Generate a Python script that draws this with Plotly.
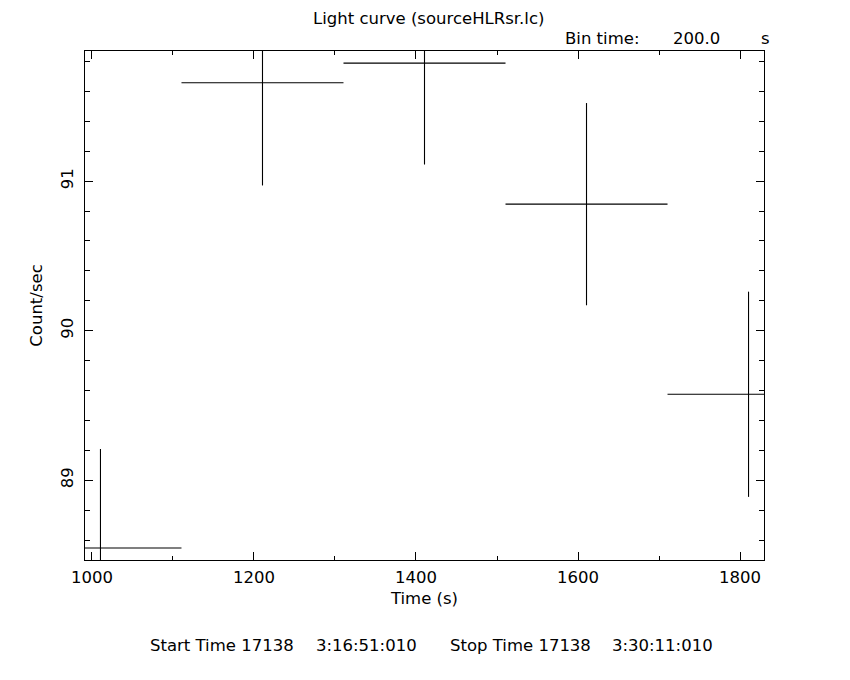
import plotly.graph_objects as go

# Data
time_s = [1010.5, 1210.5, 1410.5, 1610.5, 1810.5]
rate = [88.547, 91.658, 91.789, 90.846, 89.575]
rate_err = [0.662, 0.687, 0.678, 0.676, 0.686]
half_bin = [100, 100, 100, 100, 100]

x_range = [991.4, 1829.6]
y_range = [88.467, 91.870]
x_ticks = [1000, 1200, 1400, 1600, 1800]
y_ticks = [89, 90, 91]

title_text = "Light curve (sourceHLRsr.lc)"
bin_label = "Bin time:"
bin_value = "200.0"
bin_unit = "s"
start_label = "Start Time 17138"
start_time = "3:16:51:010"
stop_label = "Stop Time 17138"
stop_time = "3:30:11:010"

FONT = "DejaVu Sans"
FS = 16.5
OFF = 8  # page body margin
W, H = 850, 680
# target plot frame in screen pixels
SL, SR, ST, SB = 85, 764, 51, 560
L, T = SL - OFF, ST - OFF
R = W - (SR - OFF)
B = H - (SB - OFF)
PW, PH = W - L - R, H - T - B


def px(xs):
    return (xs - OFF - L) / PW


def py(ys):
    return (H - B - (ys - OFF)) / PH


fig = go.Figure()
fig.add_trace(go.Scatter(
    x=time_s, y=rate, mode="markers",
    marker=dict(size=1, color="black"),
    error_y=dict(type="data", array=rate_err, width=0, thickness=1.1, color="black"),
    error_x=dict(type="data", array=half_bin, width=0, thickness=1.1, color="black"),
    showlegend=False, hoverinfo="skip",
))

axis_common = dict(
    showgrid=False, zeroline=False, showline=True, linecolor="black", linewidth=1.2,
    mirror="ticks", ticks="inside", tickcolor="black", tickwidth=1,
    tickfont=dict(family=FONT, size=FS, color="black"),
)

fig.update_xaxes(
    range=x_range, tickvals=x_ticks, ticktext=[str(v) for v in x_ticks], ticklen=8,
    ticklabelstandoff=2,
    minor=dict(ticks="inside", ticklen=4, dtick=100, tick0=1000, tickcolor="black", tickwidth=1),
    title=dict(text="Time (s)", font=dict(family=FONT, size=FS, color="black"), standoff=6),
    **axis_common,
)
fig.update_yaxes(
    range=y_range, tickvals=y_ticks, ticktext=[str(v) for v in y_ticks], ticklen=8,
    tickangle=-90, ticklabelstandoff=4,
    minor=dict(ticks="inside", ticklen=5, dtick=0.2, tick0=89, tickcolor="black", tickwidth=1),
    title=dict(text="Count/sec", font=dict(family=FONT, size=FS, color="black"), standoff=11),
    **axis_common,
)

# title: anchored at the very top of the figure so nothing is cut
fig.add_annotation(
    text=title_text, x=px(428), y=1 + T / PH, xref="paper", yref="paper",
    xanchor="center", yanchor="top", showarrow=False, borderpad=0,
    font=dict(family=FONT, size=FS, color="black"),
)

annots = [
    (bin_label, 563, 38),
    (bin_value, 671, 38),
    (bin_unit, 759, 38),
    (start_label, 148, 645),
    (start_time, 314, 645),
    (stop_label, 448, 645),
    (stop_time, 610, 645),
]
for text, xs, ys in annots:
    fig.add_annotation(
        text=text, x=px(xs), y=py(ys), xref="paper", yref="paper",
        xanchor="left", yanchor="middle", showarrow=False,
        font=dict(family=FONT, size=FS, color="black"),
    )

fig.update_layout(
    width=W, height=H, margin=dict(l=L, r=R, t=T, b=B, pad=0),
    paper_bgcolor="white", plot_bgcolor="white",
)

fig.write_html("out.html")
